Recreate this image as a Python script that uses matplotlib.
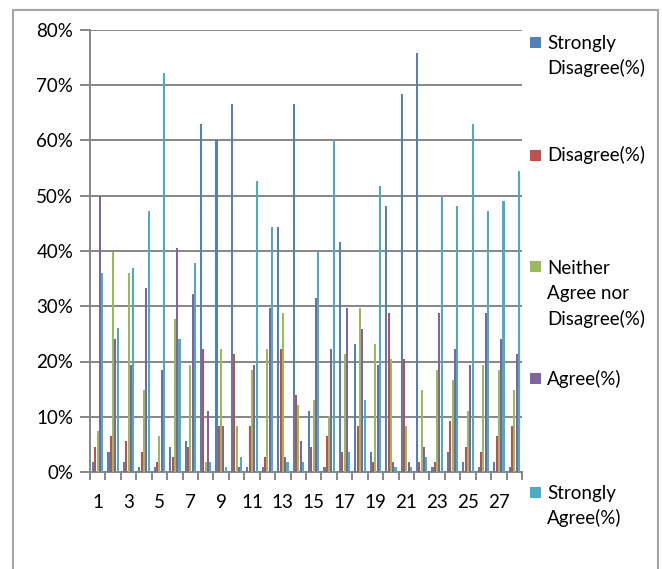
import matplotlib
matplotlib.use("Agg")
import matplotlib.pyplot as plt
import numpy as np
from matplotlib.patches import Rectangle

categories = [str(i) for i in range(1, 29)]
series_names = ["Strongly\nDisagree(%)", "Disagree(%)", "Neither\nAgree nor\nDisagree(%)",
                "Agree(%)", "Strongly\nAgree(%)"]
strongly_disagree = [1.8, 3.7, 1.8, 0.9, 0.9, 4.6, 5.6, 62.9, 60.1, 66.6, 0.9, 0.9, 44.4, 66.6,
                     11.1, 0.9, 41.7, 23.1, 3.7, 48.1, 68.5, 75.9, 0.9, 3.7, 1.8, 0.9, 1.8, 0.9]
disagree = [4.6, 6.5, 5.6, 3.7, 1.8, 2.8, 4.6, 22.2, 8.3, 21.3, 8.3, 2.8, 22.2, 13.9,
            4.6, 6.5, 3.7, 8.3, 1.8, 28.7, 20.4, 1.8, 1.8, 9.2, 4.6, 3.7, 6.5, 8.3]
neither = [7.4, 39.9, 36.0, 14.8, 6.5, 27.7, 19.4, 1.8, 22.2, 8.3, 18.5, 22.2, 28.7, 12.1,
           13.0, 10.1, 21.3, 29.6, 23.1, 20.4, 8.3, 14.8, 18.5, 16.6, 11.1, 19.4, 18.5, 14.8]
agree = [50.0, 24.0, 19.4, 33.3, 18.5, 40.6, 32.3, 11.1, 8.3, 0.9, 19.4, 29.6, 2.8, 5.6,
         31.5, 22.2, 29.6, 25.8, 19.4, 1.8, 1.8, 4.6, 28.7, 22.2, 19.4, 28.7, 24.0, 21.3]
strongly_agree = [36.0, 26.0, 37.0, 47.2, 72.3, 24.0, 37.9, 1.8, 0.9, 2.8, 52.7, 44.4, 1.8, 1.8,
                  39.9, 60.1, 3.7, 13.0, 51.8, 0.9, 0.9, 2.8, 49.9, 48.1, 62.9, 47.2, 49.0, 54.5]
series = [strongly_disagree, disagree, neither, agree, strongly_agree]
colors = ["#4F81BD", "#C0504D", "#9BBB59", "#8064A2", "#4BACC6"]

W, H = 662, 569
fig = plt.figure(figsize=(W / 100, H / 100), dpi=100)
fig.patch.set_facecolor("white")
FONT = "Lato"
plt.rcParams["font.family"] = [FONT, "DejaVu Sans"]

# outer chart border
fig.patches.append(Rectangle((13 / W, -0.05), (658 - 13) / W, 1.05 - 10 / H,
                             transform=fig.transFigure, fill=False,
                             edgecolor="#A6A6A6", linewidth=1.5))

left, right, top, bottom = 90, 522, 30, 472
ax = fig.add_axes([left / W, 1 - bottom / H, (right - left) / W, (bottom - top) / H])

x = np.arange(len(categories))
bw = 0.15
for i, (vals, c) in enumerate(zip(series, colors)):
    ax.bar(x + (i - 2) * bw, np.array(vals) / 100.0, width=bw * 0.9, color=c,
           edgecolor="none", linewidth=0, zorder=3)

ax.set_xlim(-0.5, len(categories) - 0.5)
ax.set_ylim(0, 0.8)
yt = np.arange(0, 0.81, 0.1)
ax.set_yticks(yt)
ax.set_yticklabels([f"{int(round(v * 100))}%" for v in yt], fontsize=13.5, family=[FONT, "DejaVu Sans"])
ax.yaxis.grid(True, color="#868686", linewidth=1.4, zorder=0)
ax.set_axisbelow(True)
ax.tick_params(axis="y", length=7, width=1.4, color="#868686", pad=5)

ax.set_xticks(x[::2])
ax.set_xticklabels(categories[::2], fontsize=13.5, family=[FONT, "DejaVu Sans"])
ax.set_xticks(np.arange(-0.5, len(categories), 1.0), minor=True)
ax.tick_params(axis="x", which="major", length=0, pad=16)
ax.tick_params(axis="x", which="minor", length=6, width=1.4, color="#868686")

for s in ["top", "right"]:
    ax.spines[s].set_visible(False)
for s in ["left", "bottom"]:
    ax.spines[s].set_color("#868686")
    ax.spines[s].set_linewidth(1.4)

# legend drawn on the right side
entry_centers = [42, 155, 267, 378, 492]
line_gap = 25.5
sq = 11
for name, c, yc in zip(series_names, colors, entry_centers):
    fig.patches.append(Rectangle((530 / W, 1 - (yc + sq / 2) / H), sq / W, sq / H,
                                 transform=fig.transFigure, facecolor=c, edgecolor="none"))
    for j, line in enumerate(name.split("\n")):
        yb = yc + j * line_gap + 6.5
        fig.text(547 / W, 1 - yb / H, line, fontsize=13.5, va="baseline", ha="left",
                 family=[FONT, "DejaVu Sans"])

fig.savefig("out.png", dpi=100)
